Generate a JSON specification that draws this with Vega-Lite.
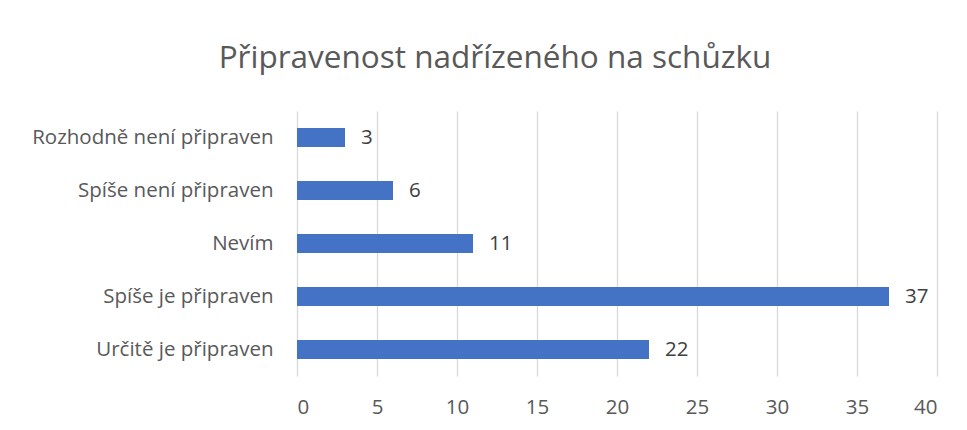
{
  "$schema": "https://vega.github.io/schema/vega-lite/v6.json",
  "autosize": "none",
  "width": 640,
  "height": 265,
  "padding": {"left": 297, "top": 111, "right": 30, "bottom": 54},
  "background": "white",
  "title": {
    "text": "Připravenost nadřízeného na schůzku",
    "font": "Open Sans",
    "fontSize": 31.5,
    "fontWeight": "normal",
    "color": "#595959",
    "anchor": "middle",
    "dx": -122,
    "offset": 37
  },
  "data": {
    "values": [
      {"odpoved": "Rozhodně není připraven", "pocet": 3},
      {"odpoved": "Spíše není připraven", "pocet": 6},
      {"odpoved": "Nevím", "pocet": 11},
      {"odpoved": "Spíše je připraven", "pocet": 37},
      {"odpoved": "Určitě je připraven", "pocet": 22}
    ]
  },
  "encoding": {
    "y": {
      "field": "odpoved",
      "type": "nominal",
      "sort": null,
      "scale": {"paddingInner": 0.64, "paddingOuter": 0.32},
      "axis": {
        "title": null,
        "domain": false,
        "ticks": false,
        "labelFont": "Open Sans",
        "labelFontSize": 20.5,
        "labelColor": "#595959",
        "labelPadding": 24,
        "labelLimit": 300
      }
    },
    "x": {
      "field": "pocet",
      "type": "quantitative",
      "scale": {"domain": [0, 40], "nice": false},
      "axis": {
        "title": null,
        "values": [0, 5, 10, 15, 20, 25, 30, 35, 40],
        "domain": false,
        "ticks": false,
        "grid": true,
        "gridColor": "#d9d9d9",
        "gridWidth": 1.3,
        "labelFont": "Open Sans",
        "labelFontSize": 20.5,
        "labelColor": "#595959",
        "labelPadding": 21
      }
    }
  },
  "layer": [
    {"mark": {"type": "bar", "color": "#4472C4"}},
    {
      "mark": {"type": "text", "align": "left", "dx": 16, "font": "Open Sans", "fontSize": 20.5, "color": "#404040"},
      "encoding": {"text": {"field": "pocet", "type": "quantitative"}}
    }
  ],
  "config": {"view": {"stroke": null}}
}
